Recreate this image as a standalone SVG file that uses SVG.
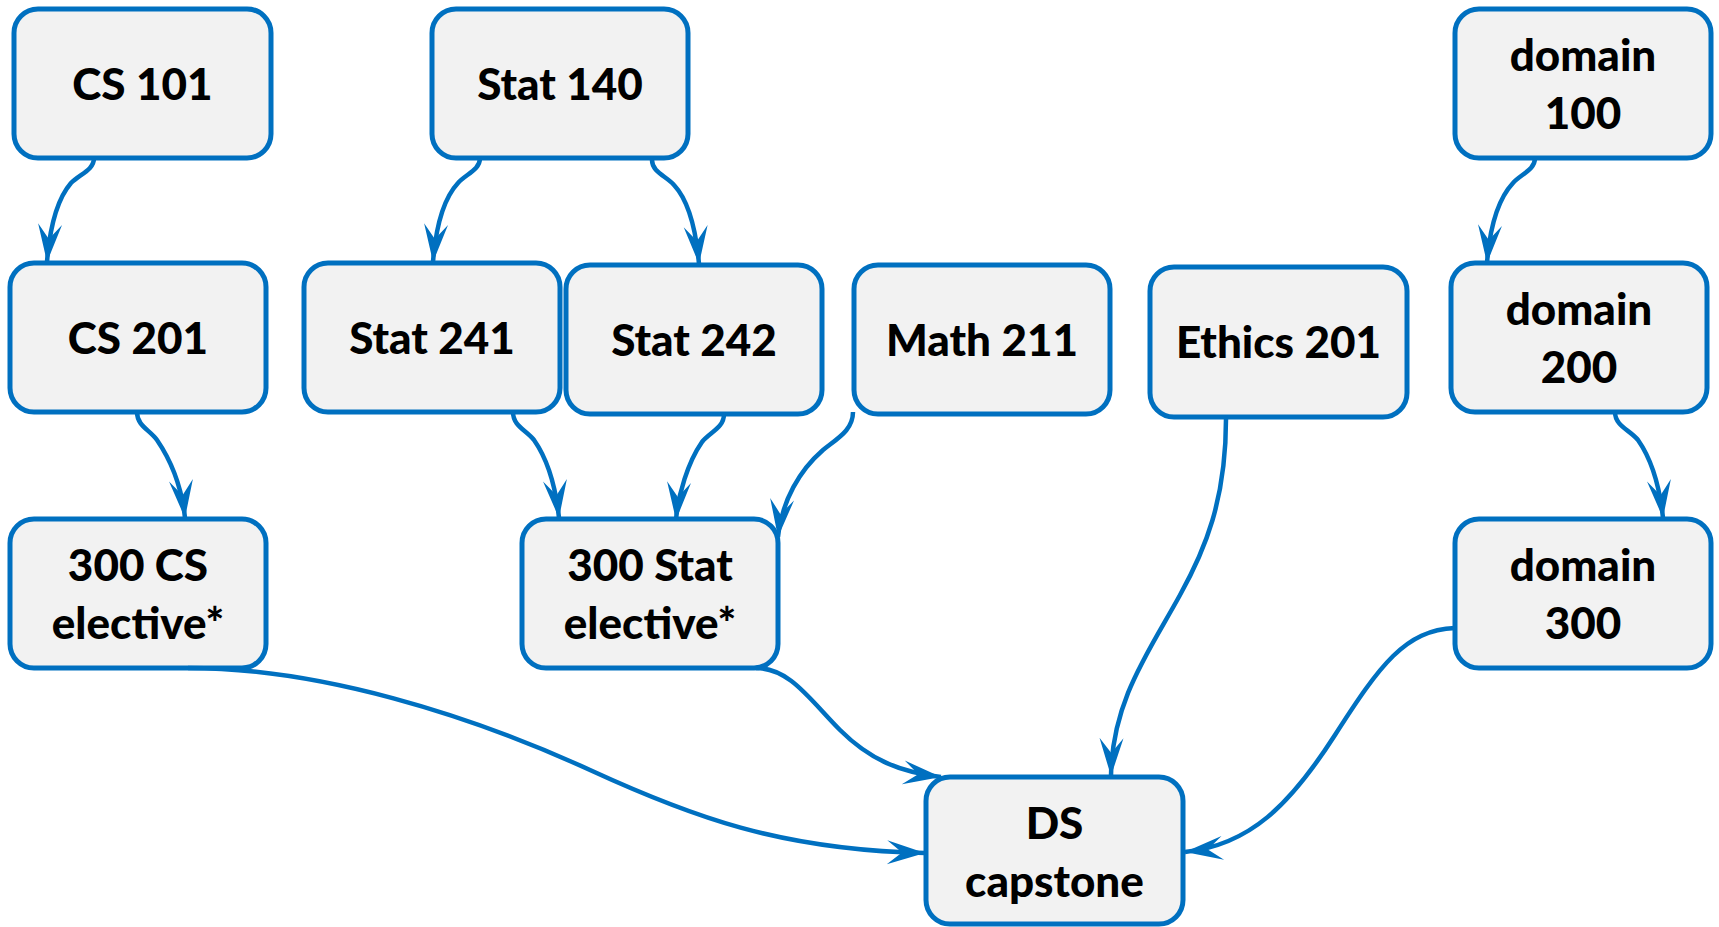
<svg xmlns="http://www.w3.org/2000/svg" width="1719" height="927" viewBox="0 0 1719 927">
  <style>
    .box { fill: #f2f2f2; stroke: #0070c0; stroke-width: 5; }
    .lbl { font-family: "Lato", "Open Sans", sans-serif; font-weight: 900; font-size: 44px; fill: #000; text-anchor: middle; }
    .edge { fill: none; stroke: #0070c0; stroke-width: 4.5; marker-end: url(#arrow); }
  </style>
  <defs>
    <marker id="arrow" markerUnits="userSpaceOnUse" viewBox="-40 -15 42 30" refX="0" refY="0" markerWidth="42" markerHeight="30" orient="auto">
      <path d="M0,0 L-38,-12 L-23,0 L-38,12 Z" fill="#0070c0"/>
    </marker>
  </defs>

  <!-- course nodes -->
  <g id="cs101">
    <rect class="box" x="14" y="9" width="257" height="149" rx="24"/>
    <text class="lbl" x="142.5" y="100">CS 101</text>
  </g>
  <g id="stat140">
    <rect class="box" x="432" y="9" width="256" height="149" rx="24"/>
    <text class="lbl" x="560" y="100">Stat 140</text>
  </g>
  <g id="domain100">
    <rect class="box" x="1455" y="9" width="256" height="149" rx="24"/>
    <text class="lbl" x="1583" y="71">domain</text>
    <text class="lbl" x="1583" y="129">100</text>
  </g>
  <g id="cs201">
    <rect class="box" x="10" y="263" width="256" height="149" rx="24"/>
    <text class="lbl" x="138" y="354">CS 201</text>
  </g>
  <g id="stat241">
    <rect class="box" x="304" y="263" width="256" height="149" rx="24"/>
    <text class="lbl" x="432" y="354">Stat 241</text>
  </g>
  <g id="stat242">
    <rect class="box" x="566" y="265" width="256" height="149" rx="24"/>
    <text class="lbl" x="694" y="356">Stat 242</text>
  </g>
  <g id="math211">
    <rect class="box" x="854" y="265" width="256" height="149" rx="24"/>
    <text class="lbl" x="982" y="356">Math 211</text>
  </g>
  <g id="ethics201">
    <rect class="box" x="1150" y="267" width="257" height="150" rx="24"/>
    <text class="lbl" x="1278.5" y="358">Ethics 201</text>
  </g>
  <g id="domain200">
    <rect class="box" x="1451" y="263" width="256" height="149" rx="24"/>
    <text class="lbl" x="1579" y="325">domain</text>
    <text class="lbl" x="1579" y="383">200</text>
  </g>
  <g id="cs300">
    <rect class="box" x="10" y="519" width="256" height="149" rx="24"/>
    <text class="lbl" x="138" y="581">300 CS</text>
    <text class="lbl" x="138" y="639">elective*</text>
  </g>
  <g id="stat300">
    <rect class="box" x="522" y="519" width="256" height="149" rx="24"/>
    <text class="lbl" x="650" y="581">300 Stat</text>
    <text class="lbl" x="650" y="639">elective*</text>
  </g>
  <g id="domain300">
    <rect class="box" x="1455" y="519" width="256" height="149" rx="24"/>
    <text class="lbl" x="1583" y="581">domain</text>
    <text class="lbl" x="1583" y="639">300</text>
  </g>
  <g id="capstone">
    <rect class="box" x="926" y="777" width="257" height="147" rx="24"/>
    <text class="lbl" x="1054.5" y="839">DS</text>
    <text class="lbl" x="1054.5" y="897">capstone</text>
  </g>

  <!-- prerequisite connectors -->
  <g id="connectors">
    <path class="edge" d="M94,158 C94,170 80,174 71,183 C58,198 50,225 47,262"/>
    <path class="edge" d="M480,158 C480,170 466,174 458,183 C444,198 436,225 433,262"/>
    <path class="edge" d="M652,160 C652,172 666,176 674,185 C688,200 696,230 699,264"/>
    <path class="edge" d="M1535,158 C1535,170 1521,174 1513,183 C1499,198 1490,225 1487,263"/>
    <path class="edge" d="M137,412 C137,426 150,430 157,440 C172,462 182,490 185,518"/>
    <path class="edge" d="M513,412 C513,426 526,430 534,440 C548,460 556,490 559,518"/>
    <path class="edge" d="M724,414 C724,428 710,432 702,442 C688,462 678,495 676,520"/>
    <path class="edge" d="M853,412 C853,430 838,438 823,450 C800,470 782,500 778,537"/>
    <path class="edge" d="M1615,412 C1615,426 1630,430 1638,440 C1652,460 1660,490 1663,518"/>
    <path class="edge" d="M1226,419 C1226,500 1205,550 1180,595 C1150,650 1112,700 1111,776"/>
    <path class="edge" d="M1455,628 C1405,630 1380,665 1335,735 C1290,805 1250,845 1185,852"/>
    <path class="edge" d="M756,668 C790,668 810,700 840,730 C870,760 900,772 941,777"/>
    <path class="edge" d="M188,668 C320,668 470,715 590,770 C690,816 780,850 925,853"/>
  </g>
</svg>
